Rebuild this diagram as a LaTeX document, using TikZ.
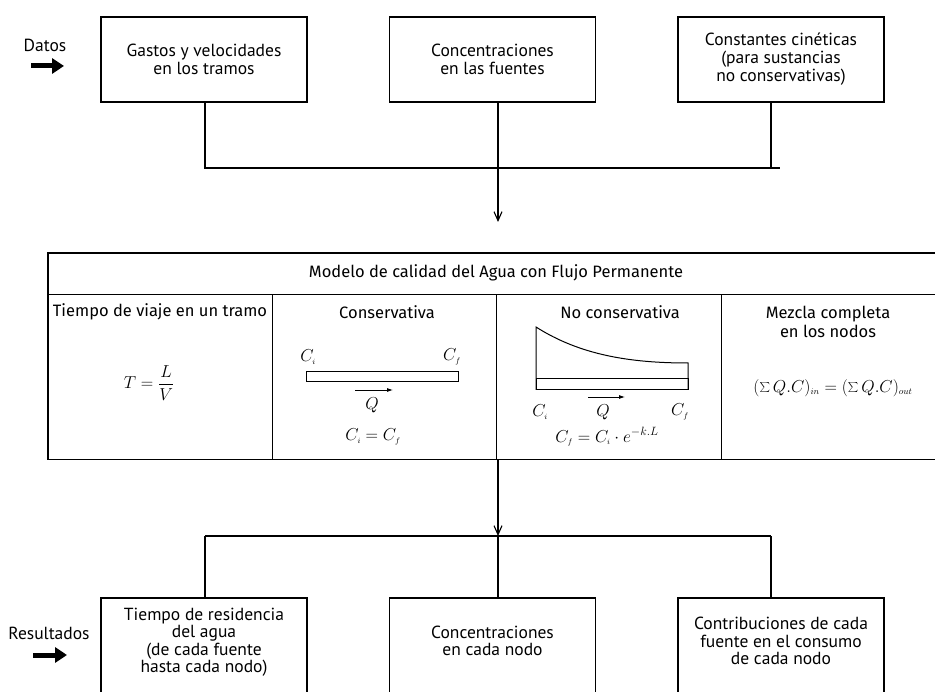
\documentclass[tikz,border=0pt]{standalone}
\usepackage{fontspec}
\setmainfont{Fira Sans}
\newfontfamily\boxfont{PT Sans}
\usetikzlibrary{arrows.meta,positioning,calc}

\begin{document}
\begin{tikzpicture}[
  x=1pt, y=-1pt,
  font=\fontsize{16.5}{19}\selectfont,
  box/.style={draw, line width=1.1pt, minimum width=206pt,
    minimum height=85pt, align=center, inner sep=0pt,
    font=\boxfont\fontsize{17.5}{18}\selectfont},
  resbox/.style={box, minimum height=120pt},
  restext/.style={align=center, font=\boxfont\fontsize{17.5}{17.5}\selectfont},
  cell/.style={draw, line width=0.9pt, minimum height=165pt, inner sep=0pt},
  side/.style={font=\boxfont\fontsize{17.5}{18}\selectfont},
  eq/.style={font=\fontsize{17}{20}\selectfont, inner sep=0pt},
  wire/.style={line width=1.1pt},
  arr/.style={wire, -{Straight Barb[length=9pt,width=8pt]}},
  qarr/.style={line width=0.8pt, -{Latex[length=6pt,width=4pt]}},
  fat/.style={line width=5pt, -{Triangle[length=12pt,width=15pt]}},
]
\useasboundingbox (0,0) rectangle (935,692);
\clip (0,0) rectangle (935,692);

% Datos
\node[side] (dat) at (45,45) {Datos};
\coordinate (datA) at (31,66);
\coordinate (datB) at (64,66);
\draw[fat] (datA) -- (datB);

\node[box] (D1) at (204,59.5) {Gastos y velocidades\\en los tramos};
\node[box] (D2) at (492.5,59.5) {Concentraciones\\en las fuentes};
\node[box] (D3) at (781,59.5) {Constantes cinéticas\\(para sustancias\\no conservativas)};

% Union of the inputs
\coordinate (J1) at (205,168);
\coordinate (J2) at (498,168);
\coordinate (J3) at (771,168);
\coordinate (Jend) at (780,168);
\coordinate (A1) at (498,222);
\draw[wire] (D1.south -| J1) -- (J1) -- (Jend);
\draw[wire] (D3.south -| J3) -- (J3);
\draw[arr] (D2.south -| J2) -- (A1);

% Model table
\node[draw, line width=0.9pt, minimum width=897pt, minimum height=41pt,
  inner sep=0pt] (H) at (496.5,273.5) {};
\node[cell, minimum width=224pt] (C1) at (160,376.5) {};
\node[cell, minimum width=224pt] (C2) at (384,376.5) {};
\node[cell, minimum width=225pt] (C3) at (608.5,376.5) {};
\node[cell, minimum width=224pt] (C4) at (833,376.5) {};
\draw[line width=1.8pt] (H.north west) rectangle (C4.south east);

\node (ht) at (496,273) {Modelo de calidad del Agua con Flujo Permanente};
\node (h1) at (160,312) {Tiempo de viaje en un tramo};
\node (h2) at (387,312) {Conservativa};
\node (h3) at (620,312) {No conservativa};
\node[align=center] (h4) at (828,322) {Mezcla completa\\en los nodos};

% Travel time
\node[eq] (fT) at (149,383) {$\displaystyle T=\frac{L}{V}$};

% Conservative
\node[eq] (ci1) at (308,357) {$C_{\scriptscriptstyle i}$};
\node[eq] (cf1) at (452,357) {$C_{\scriptscriptstyle f}$};
\draw[line width=1pt] (306,372) rectangle (458,382);
\coordinate (q1a) at (355,390);
\coordinate (q1b) at (393,390);
\draw[qarr] (q1a) -- (q1b);
\node[eq] (Q1) at (372,405) {$Q$};
\node[eq] (fc1) at (373,437) {$C_{\scriptscriptstyle i}=C_{\scriptscriptstyle f}$};

% Non conservative
\draw[line width=1pt] (536,390) -- (536,327)
  .. controls (580,355) and (630,363) .. (688,363) -- (688,390);
\draw[line width=1pt] (536,379) rectangle (688,390);
\node[eq] (ci2) at (540,412) {$C_{\scriptscriptstyle i}$};
\node[eq] (cf2) at (680,412) {$C_{\scriptscriptstyle f}$};
\coordinate (q2a) at (588,397);
\coordinate (q2b) at (625,397);
\draw[qarr] (q2a) -- (q2b);
\node[eq] (Q2) at (603,412) {$Q$};
\node[eq] (fc2) at (607,437)
  {$C_{\scriptscriptstyle f}=C_{\scriptscriptstyle i}\cdot e^{-k.L}$};

% Complete mixing
\node[eq, font=\fontsize{18}{21}\selectfont] (fm) at (833,388)
  {$(\sum Q.C)_{\scriptscriptstyle in}=(\sum Q.C)_{\scriptscriptstyle out}$};

% Split to the results
\coordinate (K1) at (205,536);
\coordinate (K2) at (498,536);
\coordinate (K3) at (771,536);
\draw[arr] (C2.south -| K2) -- (K2);
\draw[wire] (K1) -- (K3);

% Resultados
\node[side] (res) at (49,633) {Resultados};
\coordinate (resA) at (33,655);
\coordinate (resB) at (67,655);
\draw[fat] (resA) -- (resB);

\node[resbox] (R1) at (204,658) {};
\node[resbox] (R2) at (492.5,658) {};
\node[resbox] (R3) at (781,658) {};
\node[restext] (r1) at (204,642) {Tiempo de residencia\\del agua\\(de cada fuente\\hasta cada nodo)};
\node[restext] (r2) at (492.5,641) {Concentraciones\\en cada nodo};
\node[restext] (r3) at (781,641) {Contribuciones de cada\\fuente en el consumo\\de cada nodo};

\draw[wire] (K1) -- (R1.north -| K1);
\draw[wire] (K2) -- (R2.north -| K2);
\draw[wire] (K3) -- (R3.north -| K3);
\end{tikzpicture}
\end{document}
